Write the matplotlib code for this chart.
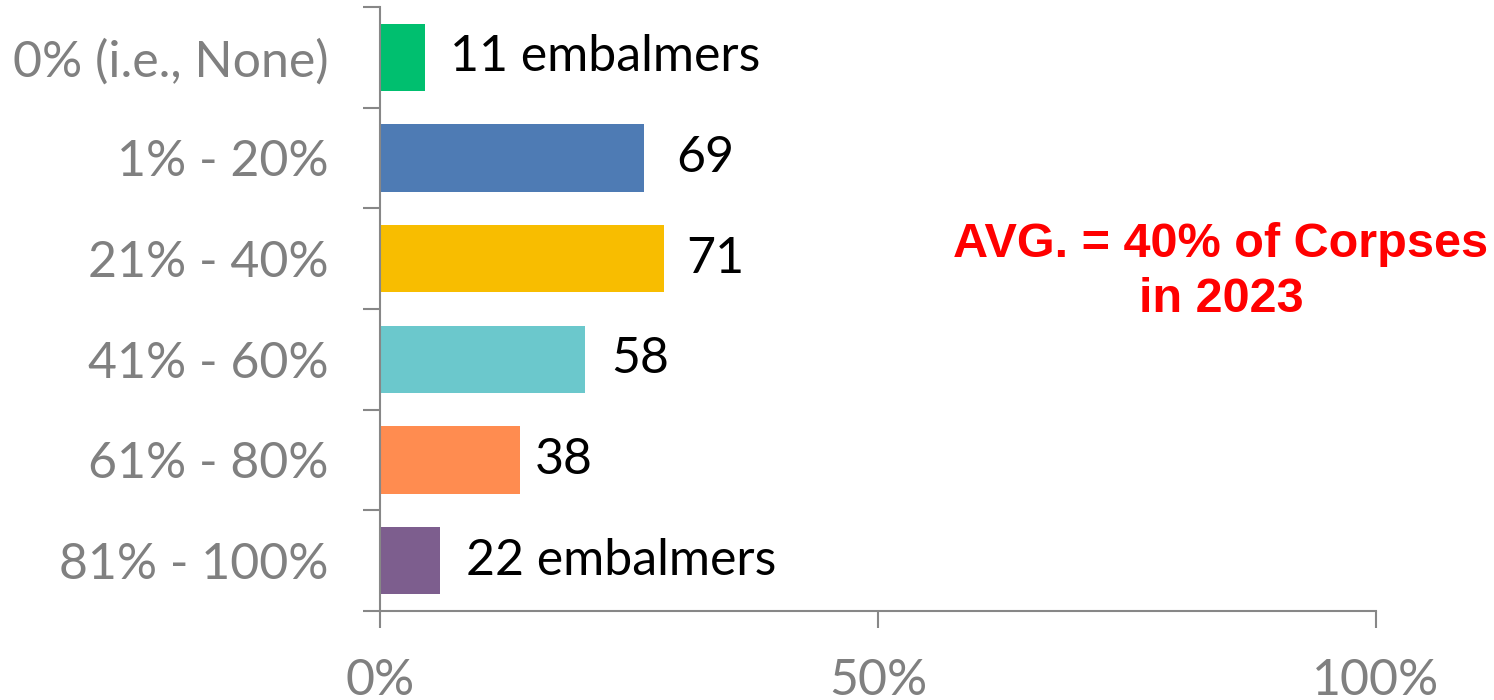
import matplotlib
matplotlib.use("Agg")
from matplotlib import pyplot as plt
import numpy as np

# data
categories = ["0% (i.e., None)", "1% - 20%", "21% - 40%", "41% - 60%", "61% - 80%", "81% - 100%"]
shares = [4.5, 26.5, 28.5, 20.6, 14.1, 6.0]
labels = ["11 embalmers", "69", "71", "58", "38", "22 embalmers"]
x_ticks = [0, 50, 100]
x_tick_labels = ["0%", "50%", "100%"]
avg_note = "AVG. = 40% of Corpses\nin 2023"

colors = ["#00BF6F", "#4E7BB4", "#F8BD00", "#6BC8CC", "#FF8C50", "#7D5E8E"]
label_pad = [18, 23, 16, 19, 10, 19]  # points right of bar end
axis_grey = "#878787"

plt.rcParams['font.family'] = ['Lato', 'DejaVu Sans']

fig = plt.figure(figsize=(14.94, 7.0), dpi=100)
ax = fig.add_axes([380 / 1494, 1 - 611 / 700, 996 / 1494, 604 / 700])

y = np.arange(len(categories))
ax.barh(y, shares, height=0.67, color=colors, zorder=2)

for i, (val, txt) in enumerate(zip(shares, labels)):
    ax.annotate(txt, (val, i), xytext=(label_pad[i], 0), textcoords="offset points",
                ha="left", va="center", fontsize=36, color="black")

ax.set_ylim(len(categories) - 0.5, -0.5)
ax.set_xlim(0, 100)

# category boundaries carry the y ticks
ax.set_yticks(np.arange(-0.5, len(categories), 1.0), minor=False)
ax.set_yticklabels([])
ax.set_yticks(y, minor=True)
ax.set_yticklabels(categories, minor=True, fontsize=36, color="#808080")
ax.tick_params(axis="y", which="minor", length=0, pad=37)
ax.tick_params(axis="y", which="major", length=12, width=1.5, color=axis_grey)

ax.set_xticks(x_ticks)
ax.set_xticklabels(x_tick_labels, fontsize=36, color="#808080")
ax.tick_params(axis="x", length=12, width=1.5, color=axis_grey, pad=22)

for side in ["top", "right"]:
    ax.spines[side].set_visible(False)
for side in ["left", "bottom"]:
    ax.spines[side].set_color(axis_grey)
    ax.spines[side].set_linewidth(1.5)

fig.text(1221 / 1494, 1 - 272 / 700, avg_note, ha="center", va="center",
         fontsize=35, fontweight="bold", color="#FF0000",
         family="Liberation Sans", linespacing=1.3)

fig.savefig("out.png", dpi=100)
